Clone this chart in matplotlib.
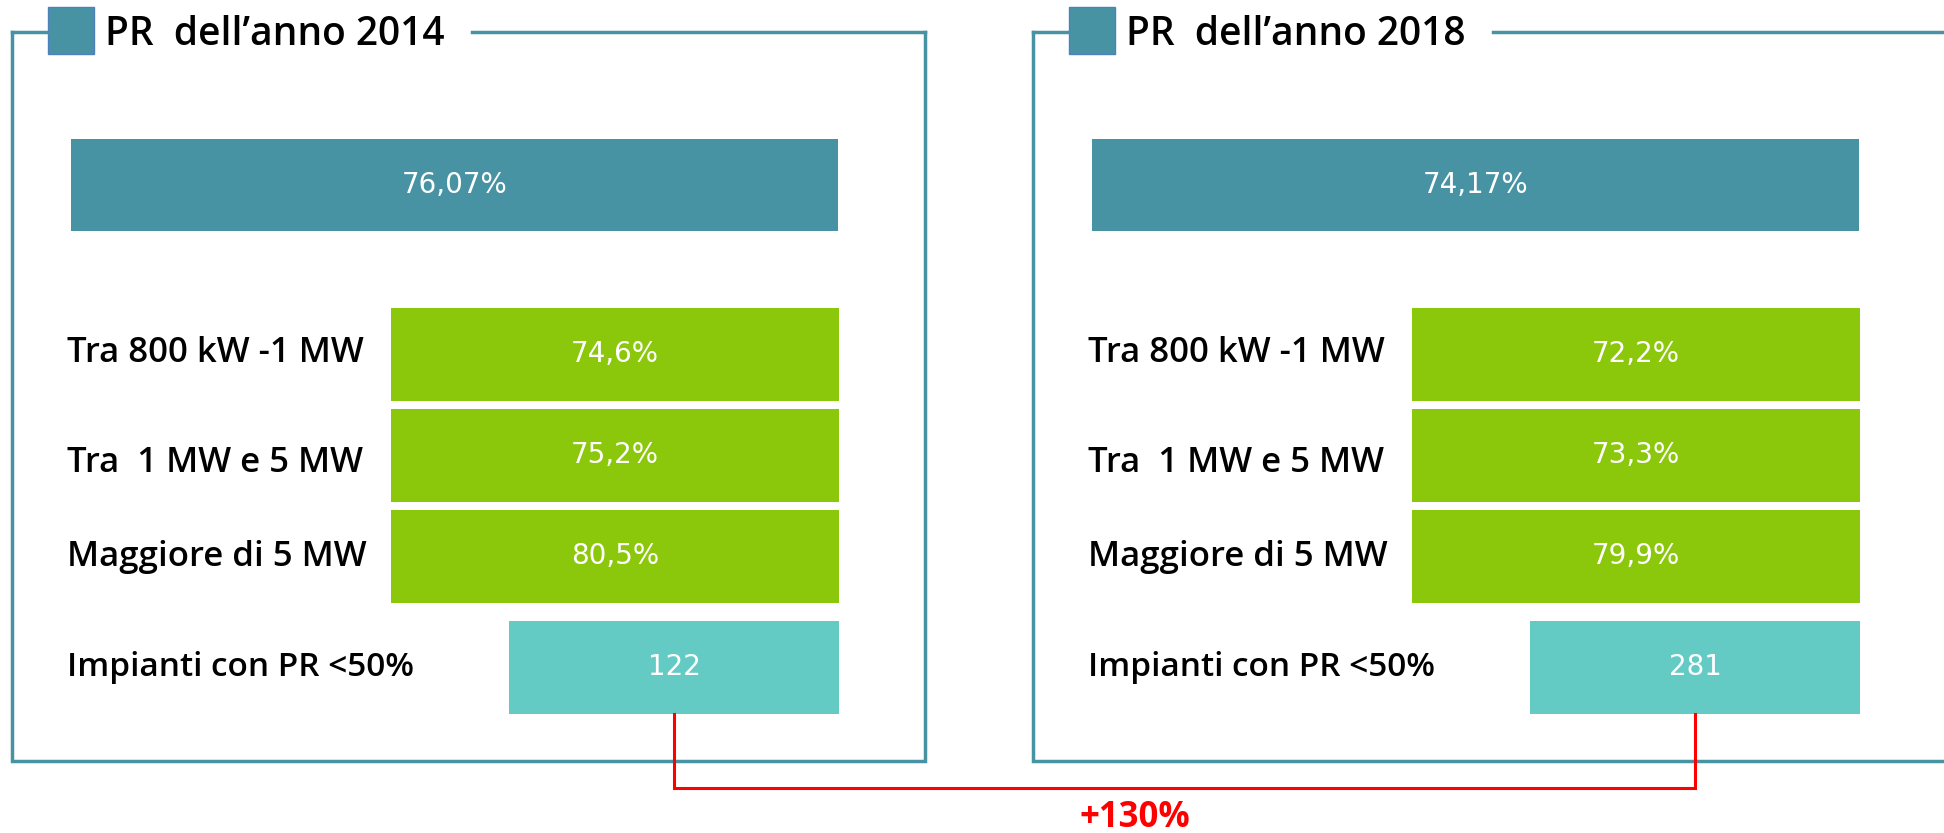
import matplotlib
matplotlib.use("Agg")
import matplotlib.pyplot as plt
from matplotlib.patches import Rectangle

plt.rcParams['font.family'] = ['Open Sans', 'DejaVu Sans']

# data
years = ["2014", "2018"]
pr_totale = ["76,07%", "74,17%"]
categorie = ["Tra 800 kW -1 MW", "Tra  1 MW e 5 MW", "Maggiore di 5 MW"]
pr_categorie = [["74,6%", "75,2%", "80,5%"],
                ["72,2%", "73,3%", "79,9%"]]
label_basso = "Impianti con PR <50%"
impianti_basso = [122, 281]
variazione = "+130%"

teal = "#4793a3"
green = "#8bc70a"
cyan = "#63cbc4"
red = "#ff0000"

fig = plt.figure(figsize=(19.44, 8.33), dpi=100)
ax = fig.add_axes([0, 0, 1, 1])
ax.set_xlim(0, 1944)
ax.set_ylim(833, 0)
ax.axis("off")

panel_dx = 1021
green_y = [354, 455, 556]
label_y = [353, 463, 557]
bar_centers = []

for i, year in enumerate(years):
    dx = i * panel_dx
    # box with gap for title
    x0, x1, y0, y1 = 12 + dx, 925 + dx, 32, 761
    if i == 1:
        x1 = 1960
    ax.plot([x0, x0, x1, x1], [y0, y1, y1, y0], color=teal, lw=2.5,
            solid_joinstyle="miter", clip_on=True)
    ax.plot([x0, 48 + dx], [y0, y0], color=teal, lw=2.5)
    ax.plot([472 + dx, x1], [y0, y0], color=teal, lw=2.5)
    ax.add_patch(Rectangle((48 + dx, 7), 46, 47, facecolor=teal,
                           edgecolor="#4f7fbf", lw=1))
    ax.text(105 + dx, 45, "PR  dell\u2019anno " + year, fontsize=28,
            fontweight="semibold", color="black", va="baseline", ha="left")

    # overall PR
    ax.barh(185, 767, left=71 + dx, height=92, color=teal)
    ax.text(71 + dx + 767 / 2, 185, pr_totale[i], color="white",
            fontsize=20, ha="center", va="center", family="DejaVu Sans")

    # size classes
    for j, cat in enumerate(categorie):
        ax.barh(green_y[j], 448, left=391 + dx, height=93, color=green)
        ax.text(391 + dx + 224, green_y[j], pr_categorie[i][j], color="white",
                fontsize=20, ha="center", va="center", family="DejaVu Sans")
        ax.text(67 + dx, label_y[j], cat, fontsize=25, fontweight="semibold",
                ha="left", va="center", color="black")

    # plants with PR < 50%
    ax.barh(667, 330, left=509 + dx, height=93, color=cyan)
    ax.text(509 + dx + 165, 667, str(impianti_basso[i]), color="white",
            fontsize=20, ha="center", va="center", family="DejaVu Sans")
    ax.text(67 + dx, 668, label_basso, fontsize=24, fontweight="semibold",
            ha="left", va="center", color="black")
    bar_centers.append(509 + dx + 165)

# red connector between the two counts
ax.plot([bar_centers[0], bar_centers[0], bar_centers[1], bar_centers[1]],
        [714, 788, 788, 714], color=red, lw=2.2, solid_joinstyle="miter")
ax.text(sum(bar_centers) / 2 - 50, 818, variazione, color=red, fontsize=25,
        fontweight="bold", ha="center", va="center")

fig.savefig("out.png", dpi=100)
